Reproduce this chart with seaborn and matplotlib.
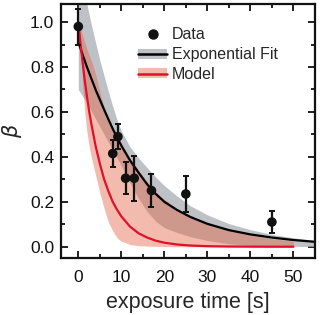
import numpy as np
import pandas as pd
import seaborn as sns
import matplotlib.pyplot as plt
from matplotlib.lines import Line2D
from matplotlib.patches import Patch
from matplotlib.ticker import MultipleLocator

# measured points
t_data = [0, 8, 9.2, 11, 13, 17, 25, 45]
beta_data = [0.98, 0.415, 0.49, 0.305, 0.305, 0.25, 0.235, 0.11]
beta_err = [0.08, 0.06, 0.055, 0.07, 0.10, 0.075, 0.08, 0.048]

# exponential fit curve and its band
fit_t = [0, 1, 2, 3, 4, 5, 6, 7, 8, 9, 10, 12, 14, 16, 18, 20, 23, 26, 30, 35, 40, 45, 50, 55]
fit_beta = [0.91, 0.855, 0.80, 0.75, 0.70, 0.655, 0.61, 0.567, 0.525, 0.487, 0.45, 0.385,
            0.33, 0.278, 0.235, 0.20, 0.163, 0.133, 0.102, 0.074, 0.055, 0.041, 0.03, 0.022]
fit_upper = [1.25, 1.16, 1.08, 0.99, 0.91, 0.83, 0.76, 0.69, 0.625, 0.565, 0.515, 0.445,
             0.395, 0.352, 0.31, 0.272, 0.225, 0.183, 0.142, 0.103, 0.076, 0.055, 0.04, 0.028]
fit_lower = [0.70, 0.67, 0.64, 0.605, 0.57, 0.535, 0.50, 0.465, 0.43, 0.395, 0.36, 0.285,
             0.215, 0.157, 0.113, 0.085, 0.063, 0.045, 0.028, 0.013, 0.006, 0.003, 0.002, 0.001]

# model curve and its band
model_t = [0, 0.5, 1, 1.5, 2, 2.5, 3, 4, 5, 6, 7, 8, 9, 10, 12, 14, 16, 18, 20, 23, 26, 30,
           35, 40, 45, 50]
model_beta = [1.0, 0.905, 0.82, 0.74, 0.67, 0.605, 0.55, 0.45, 0.37, 0.30, 0.247, 0.20, 0.165,
              0.135, 0.09, 0.06, 0.041, 0.027, 0.018, 0.01, 0.0055, 0.0025, 0.001, 0.0005,
              0.0002, 0.0001]
model_upper = [1.0, 0.97, 0.94, 0.91, 0.88, 0.855, 0.83, 0.77, 0.69, 0.62, 0.57, 0.53, 0.495,
               0.46, 0.395, 0.34, 0.29, 0.245, 0.21, 0.17, 0.138, 0.105, 0.075, 0.052, 0.036,
               0.025]
model_lower = [0.97, 0.88, 0.72, 0.60, 0.51, 0.45, 0.40, 0.32, 0.24, 0.17, 0.11, 0.07, 0.04,
               0.025, 0.01, 0.005, 0.003, 0.002, 0.001, 0, 0, 0, 0, 0, 0, 0]

sns.set_theme(style="ticks")
plt.rcParams['font.family'] = ['Liberation Sans', 'DejaVu Sans']

fig = plt.figure(figsize=(3.2, 3.15), dpi=100)
ax = fig.add_axes([0.191, 0.181, 0.793, 0.806])

grey = "#a9adb2"
pink = "#e4684a"

ax.fill_between(fit_t, fit_lower, fit_upper, color=grey, alpha=0.75, lw=0)
ax.fill_between(model_t, model_lower, model_upper, color=pink, alpha=0.45, lw=0)

fit_df = pd.DataFrame({"t": fit_t, "beta": fit_beta})
model_df = pd.DataFrame({"t": model_t, "beta": model_beta})
sns.lineplot(data=fit_df, x="t", y="beta", color="black", lw=1.6, ax=ax)
sns.lineplot(data=model_df, x="t", y="beta", color="#e0102a", lw=1.6, ax=ax)

ax.errorbar(t_data, beta_data, yerr=beta_err, fmt="none", ecolor="#111111",
            elinewidth=1.6, capsize=2.5, capthick=1.4, zorder=4)
sns.scatterplot(x=t_data, y=beta_data, color="#111111", s=48, edgecolor="none",
                zorder=5, ax=ax)

ax.set_xlim(-4, 55)
ax.set_ylim(-0.05, 1.08)
ax.xaxis.set_major_locator(MultipleLocator(10))
ax.xaxis.set_minor_locator(MultipleLocator(5))
ax.yaxis.set_major_locator(MultipleLocator(0.2))
ax.yaxis.set_minor_locator(MultipleLocator(0.1))
ax.yaxis.set_major_formatter(plt.FuncFormatter(lambda v, p: f"{v:.1f}"))
ax.tick_params(which="both", direction="in", top=True, right=True, width=1.3,
               colors="#111111", labelsize=12.5)
ax.tick_params(axis="x", pad=9)
ax.tick_params(axis="y", pad=5)
ax.tick_params(which="major", length=5)
ax.tick_params(which="minor", length=3)
for s in ax.spines.values():
    s.set_linewidth(1.6)
    s.set_color("#111111")

ax.set_xlabel("exposure time [s]", fontsize=15.5, labelpad=5)
ax.set_ylabel(r"$\beta$", fontsize=15, labelpad=4)

handles = [
    Line2D([], [], marker="o", color="#111111", ls="none", markersize=6.5),
    (Patch(facecolor=grey, alpha=0.75, lw=0), Line2D([], [], color="black", lw=1.8)),
    (Patch(facecolor=pink, alpha=0.45, lw=0), Line2D([], [], color="#e0102a", lw=1.8)),
]
ax.legend(handles, ["Data", "Exponential Fit", "Model"], loc="upper left",
          bbox_to_anchor=(0.26, 0.952), frameon=False, fontsize=11.5,
          handlelength=1.8, handleheight=0.6, handletextpad=0.3, labelspacing=0.3,
          borderpad=0.2)

fig.savefig("out.png", dpi=100)
